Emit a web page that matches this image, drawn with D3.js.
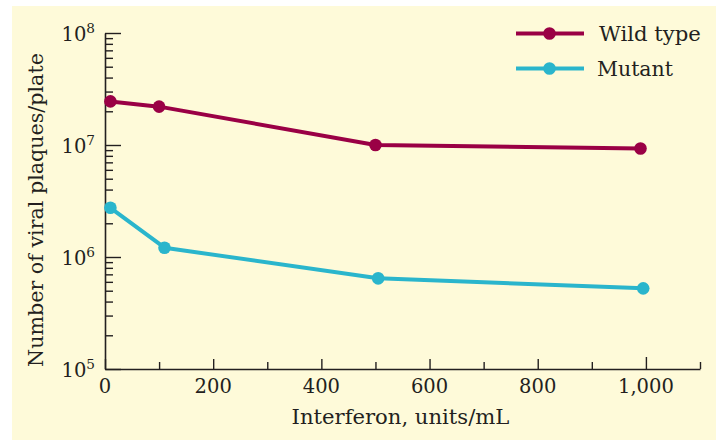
<!DOCTYPE html>
<html>
<head>
<meta charset="utf-8">
<script src="https://cdn.jsdelivr.net/npm/d3@7"></script>
<style>
  html, body { margin: 0; padding: 0; background: #ffffff; }
  svg { display: block; }
  text { font-family: "DejaVu Serif", "Liberation Serif", serif; fill: #231f20; }
</style>
</head>
<body>
<svg id="chart" width="716" height="440"></svg>
<script>
// ---- data ----
const seriesNames = ["Wild type", "Mutant"];
const wildDose = [10, 100, 500, 990];
const wildPlaques = [2.45e7, 2.2e7, 1.0e7, 9.3e6];
const mutantDose = [10, 110, 505, 995];
const mutantPlaques = [2.75e6, 1.21e6, 6.45e5, 5.25e5];
const xTickValues = [0, 200, 400, 600, 800, 1000];
const xTickLabels = ["0", "200", "400", "600", "800", "1,000"];
const yDecades = [5, 6, 7, 8];
const xTitle = "Interferon, units/mL";
const yTitle = "Number of viral plaques/plate";

const colors = ["#9a0045", "#2ab5cc"];
const ink = "#231f20";

const svg = d3.select("#chart");
const W = 716, H = 440;

svg.append("rect").attr("x", 12).attr("y", 6).attr("width", W - 12).attr("height", H - 6)
  .attr("fill", "#fefad9");

const x = d3.scaleLinear().domain([0, 1100]).range([105, 700]);
const y = d3.scaleLog().domain([1e5, 1e8]).range([369, 33]);

// fit a text element to a target width by adjusting font size
function fit(sel, target) {
  const n = sel.node();
  const fs = parseFloat(sel.attr("font-size"));
  const w = n.getComputedTextLength();
  sel.attr("font-size", fs * target / w);
}

const fontSize = 19.5;

// ---- x axis ----
const xAxis = svg.append("g").attr("transform", `translate(0,${y.range()[0]})`);
xAxis.call(d3.axisBottom(x).tickValues(d3.range(0, 1101, 100)).tickSize(0).tickFormat(""));
xAxis.select(".domain").attr("stroke", ink).attr("stroke-width", 1.6);
xAxis.selectAll(".tick line").remove();
xAxis.selectAll(".tick").append("line")
  .attr("y1", 0)
  .attr("y2", d => d === 1000 ? -12 : (d % 200 === 0 && d <= 1000) ? -10 : -7)
  .attr("stroke", ink).attr("stroke-width", 1.4);
xAxis.selectAll(".tick text").remove();
xAxis.selectAll(".lbl").data(xTickValues).enter().append("text")
  .attr("x", d => x(d)).attr("y", 24)
  .attr("text-anchor", "middle")
  .attr("font-size", fontSize)
  .text((d, i) => xTickLabels[i]);

// ---- y axis ----
const yMinorVals = [];
for (let e = 5; e < 8; e++) for (let m = 2; m <= 9; m++) yMinorVals.push(m * Math.pow(10, e));
const yMajorVals = yDecades.map(e => Math.pow(10, e));
const yAxis = svg.append("g").attr("transform", `translate(${x.range()[0]},0)`);
yAxis.call(d3.axisLeft(y).tickValues(yMajorVals.concat(yMinorVals)).tickSize(0).tickFormat(""));
yAxis.select(".domain").attr("stroke", ink).attr("stroke-width", 1.6);
yAxis.selectAll(".tick line").remove();
yAxis.selectAll(".tick").append("line")
  .attr("x1", 0)
  .attr("x2", d => yMajorVals.includes(d) ? 16 : 8)
  .attr("stroke", ink).attr("stroke-width", 1.4);
const yl = yAxis.selectAll(".ylbl").data(yDecades).enter().append("text")
  .attr("x", -43.5).attr("y", d => y(Math.pow(10, d)) + 7.5)
  .attr("text-anchor", "start")
  .attr("font-size", fontSize);
yl.append("tspan").text("10");
yl.append("tspan").attr("dy", -8).attr("font-size", fontSize * 0.7).text(d => d);

// ---- titles ----
const xt = svg.append("text").attr("x", (x.range()[0] + x.range()[1]) / 2 - 2).attr("y", 424)
  .attr("text-anchor", "middle").attr("font-size", fontSize).text(xTitle);
fit(xt, 218);
const yt = svg.append("text")
  .attr("transform", `translate(43,210) rotate(-90)`)
  .attr("text-anchor", "middle").attr("font-size", fontSize).text(yTitle);
fit(yt, 314);

// ---- series ----
const series = [
  { name: seriesNames[0], pts: wildDose.map((d, i) => [d, wildPlaques[i]]), color: colors[0] },
  { name: seriesNames[1], pts: mutantDose.map((d, i) => [d, mutantPlaques[i]]), color: colors[1] }
];
const line = d3.line().x(d => x(d[0])).y(d => y(d[1]));
series.forEach(s => {
  svg.append("path").attr("d", line(s.pts)).attr("fill", "none")
    .attr("stroke", s.color).attr("stroke-width", 4).attr("stroke-linejoin", "round");
  svg.selectAll(null).data(s.pts).enter().append("circle")
    .attr("cx", d => x(d[0])).attr("cy", d => y(d[1])).attr("r", 6.3).attr("fill", s.color);
});

// ---- legend ----
const legend = svg.append("g");
const legendWidths = [102, 76];
series.forEach((s, i) => {
  const ly = 33.5 + i * 35;
  legend.append("line").attr("x1", 516).attr("x2", 584).attr("y1", ly).attr("y2", ly)
    .attr("stroke", s.color).attr("stroke-width", 4);
  legend.append("circle").attr("cx", 549.5).attr("cy", ly).attr("r", 6.3).attr("fill", s.color);
  const t = legend.append("text").attr("x", i === 0 ? 599 : 597).attr("y", ly + 7)
    .attr("font-size", fontSize).text(s.name);
  fit(t, legendWidths[i]);
});
</script>
</body>
</html>
